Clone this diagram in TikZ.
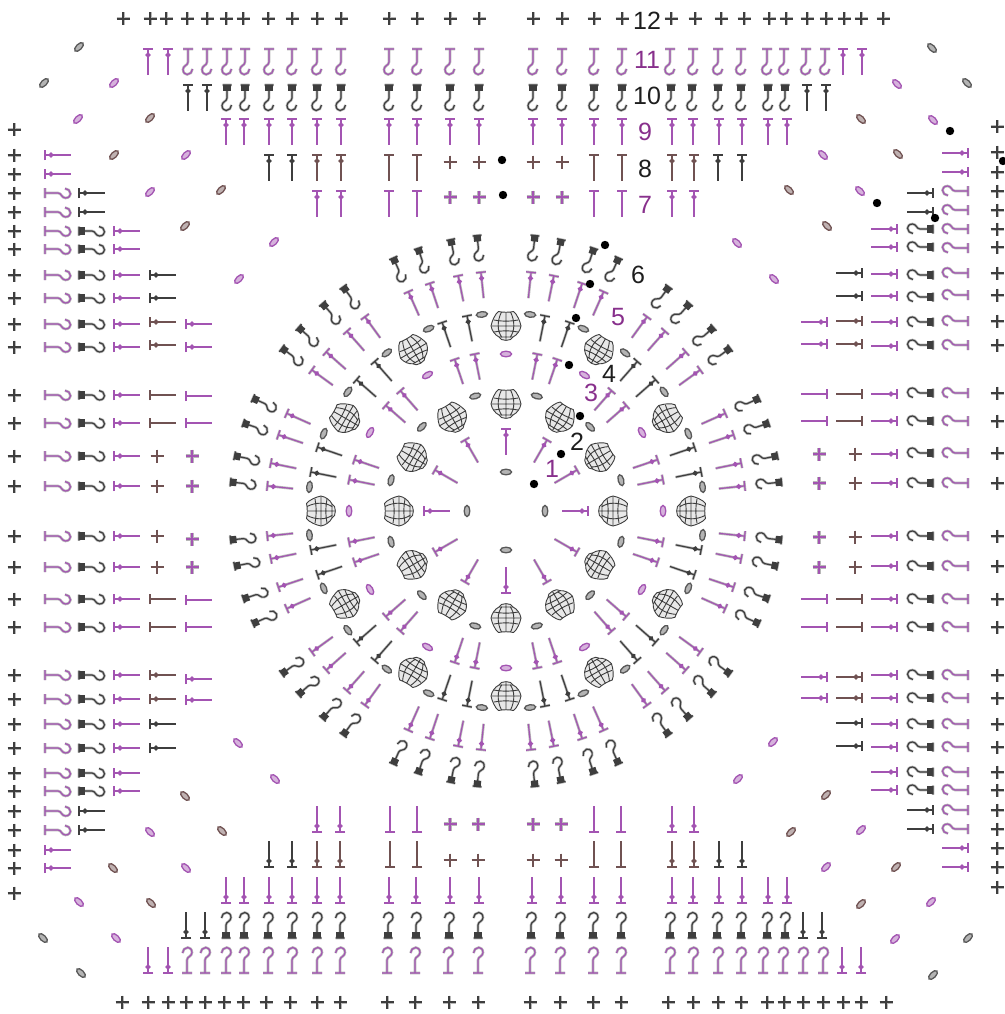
\documentclass[tikz,border=0pt]{standalone}
\usepackage{fontspec}
\setmainfont{Liberation Sans}
\definecolor{pk}{RGB}{163,84,178}
\definecolor{kk}{RGB}{62,62,62}
\definecolor{br}{RGB}{112,82,82}
\definecolor{gy}{RGB}{88,88,88}
\definecolor{lb}{RGB}{30,30,30}
\definecolor{lp}{RGB}{136,48,140}
\tikzset{
  thr/.style={line width=1.2pt,line cap=butt,preaction={draw,opacity=.28,line width=2.6pt}},
  pufl/.style={draw=kk,line width=0.9pt,line join=round},
  lab/.style={font=\fontsize{25}{25}\selectfont,inner sep=0pt,anchor=center},
  knot/.style={fill=black,draw=none}
}
% local frame: head at the origin, stitch runs towards +y (screen down) when the angle is 90
\newcommand\placed[4]{\begin{scope}[shift={({#1},{#2})},rotate={#3-90}]#4\end{scope}}
\newcommand\Tplain[4]{\placed{#1}{#2}{#3}{\draw[thr,#4] (-5,0)--(5,0) (0,0)--(0,26);}}
\newcommand\Tdot[4]{\placed{#1}{#2}{#3}{\draw[thr,#4] (-5,0)--(5,0) (0,0)--(0,26);\fill[#4] (-2.8,6)--(0,3)--(2.8,6)--(0,9)--cycle;}}
\newcommand\hookpath{(0,0)--(0,13) .. controls (0,16.5) and (-5,16.5) .. (-5,20.5) .. controls (-5,24) and (-2.5,25.5) .. (-0.8,25.5) .. controls (2,25.5) and (4.5,23) .. (4.5,20)}
\newcommand\Hthin[4]{\placed{#1}{#2}{#3}{\draw[thr,#4] (-5,0)--(5,0) \hookpath;}}
\newcommand\Hblock[4]{\placed{#1}{#2}{#3}{\draw[thr,#4] (-4.5,0)--(4.5,0) \hookpath;\fill[#4] (-3.6,0)--(3.6,0)--(3.6,6)--(-3.6,6)--cycle;}}
\newcommand\Cross[4]{\draw[#3,line width=#4,preaction={draw,opacity=.28,line width=#4+1.4pt}] ({#1-6.5},{#2})--({#1+6.5},{#2}) ({#1},{#2-6.5})--({#1},{#2+6.5});}
\newcommand\Oval[4]{\draw[#4,fill=#4!45,line width=1.3pt,rotate around={#3:({#1},{#2})}] ({#1},{#2}) ellipse [x radius=5.6,y radius=2.8];}
\newcommand\Puff[3]{\placed{#1}{#2}{#3}{\draw[pufl,fill=gray!18]
 (-7.5,-14.5) .. controls (-4,-13.5) and (4,-13.5) .. (7.5,-14.5) .. controls (11,-12) and (14,-5) .. (15,0) .. controls (14,5) and (11,9) .. (7,11) .. controls (6,15.5) and (-6,15.5) .. (-7,11) .. controls (-11,9) and (-14,5) .. (-15,0) .. controls (-14,-5) and (-11,-12) .. (-7.5,-14.5) -- cycle;
 \draw[pufl] (-4.5,-14) .. controls (-9,-5) and (-9,5) .. (-4,11.5) (4.5,-14) .. controls (9,-5) and (9,5) .. (4,11.5) (0,-14)--(0,14) (-15,0)--(15,0) (-12,-6) .. controls (-4,-4.5) and (4,-4.5) .. (12,-6) (-12,6) .. controls (-4,4.5) and (4,4.5) .. (12,6) (-7,11)--(7,11);}}
\newcommand\px[2]{506+#1*cos(#2)}
\newcommand\py[2]{511-#1*sin(#2)}
\begin{document}
\begin{tikzpicture}[x=1pt,y=-1pt]
\useasboundingbox (0,0) rectangle (1004,1014);
\fill[white] (0,0) rectangle (1004,1014);
% ---- crosses of the outer border
\foreach \x in {123,150,166,187,207,226,243,268,292,317,341,389,417,450,479,533,562,594,622,671,695,721,744,769,786,807,826,844,861,883} {\Cross{\x}{19}{kk}{1.6pt}}
\foreach \x in {122,148,168,186,205,224,243,266,290,317,340,387,415,449,478,530,560,593,621,668,693,718,741,767,784,803,823,843,861,886} {\Cross{\x}{1002}{kk}{1.6pt}}
\foreach \y in {130,155,174,193,212,231,249,275,298,324,347,395,423,456,486,536,567,599,627,675,699,724,748,773,791,811,830,850,868,893} {\Cross{14}{\y}{kk}{1.6pt}}
\foreach \y in {127,152,172,191,210,229,247,273,295,321,345,393,421,453,483,536,566,599,627,675,698,724,747,772,790,810,829,848,867,887} {\Cross{997}{\y}{kk}{1.6pt}}
% ---- top rows
\foreach \x in {148,168,843,862} {\Tdot{\x}{49}{90}{pk}}
\foreach \x in {188,207,227,245,269,292,317,341,389,417,450,479,533,562,594,622,670,693,718,741,767,784,806,825} {\Hthin{\x}{49}{90}{pk}}
\foreach \x in {188,207,807,826} {\Tdot{\x}{85}{90}{kk}}
\foreach \x in {227,245,269,292,317,341,389,417,450,479,533,562,594,622,671,692,718,741,768,785} {\Hblock{\x}{85}{90}{kk}}
\foreach \x in {226,244,269,292,317,341,389,417,450,479,533,562,594,622,672,693,719,742,768,787} {\Tdot{\x}{119}{90}{pk}}
\foreach \x in {269,292,718,742} {\Tdot{\x}{155}{90}{kk}}
\foreach \x in {317,341,672,694} {\Tdot{\x}{155}{90}{br}}
\foreach \x in {389,417,594,622} {\Tplain{\x}{155}{90}{br}}
\foreach \x in {450,479,533,562} {\Cross{\x}{162}{br}{1.3pt}}
\foreach \x in {317,341,672,694} {\Tdot{\x}{191}{90}{pk}}
\foreach \x in {389,417,594,622} {\Tplain{\x}{191}{90}{pk}}
\foreach \x in {450,479,533,562} {\Cross{\x}{197}{pk}{1.8pt}}
% ---- bottom rows
\foreach \x in {148,168,842,861} {\Tdot{\x}{973}{270}{pk}}
\foreach \x in {187,205,226,244,268,292,317,340,387,415,448,478,530,560,593,621,670,693,718,741,763,783,803,823} {\Hthin{\x}{973}{270}{pk}}
\foreach \x in {186,205,803,822} {\Tdot{\x}{938}{270}{kk}}
\foreach \x in {226,244,268,292,317,340,388,416,449,478,531,560,593,621,670,692,717,741,767,785} {\Hblock{\x}{938}{270}{kk}}
\foreach \x in {226,244,269,292,317,340,389,416,450,479,532,561,594,621,672,693,719,742,768,787} {\Tdot{\x}{903}{270}{pk}}
\foreach \x in {269,292,719,742} {\Tdot{\x}{867}{270}{kk}}
\foreach \x in {317,340,672,694} {\Tdot{\x}{867}{270}{br}}
\foreach \x in {390,417,594,621} {\Tplain{\x}{867}{270}{br}}
\foreach \x in {450,478,533,561} {\Cross{\x}{860}{br}{1.3pt}}
\foreach \x in {317,340,672,694} {\Tdot{\x}{832}{270}{pk}}
\foreach \x in {390,417,594,621} {\Tplain{\x}{832}{270}{pk}}
\foreach \x in {450,478,533,561} {\Cross{\x}{824}{pk}{1.8pt}}
% ---- left columns
\foreach \y in {155,174,850,868} {\Tdot{45}{\y}{180}{pk}}
\foreach \y in {193,212,231,249,275,298,324,347,395,423,456,486,536,567,599,627,675,699,724,748,773,791,811,830} {\Hthin{45}{\y}{180}{pk}}
\foreach \y in {193,212,811,830} {\Tdot{79}{\y}{180}{kk}}
\foreach \y in {231,249,275,298,324,347,395,423,456,486,536,567,599,627,675,699,724,748,773,791} {\Hblock{79}{\y}{180}{kk}}
\foreach \y in {231,249,275,298,324,347,395,423,456,486,536,567,599,627,675,699,724,748,773,791} {\Tdot{114}{\y}{180}{pk}}
\foreach \y in {275,298,724,748} {\Tdot{150}{\y}{180}{kk}}
\foreach \y in {322,345,675,699} {\Tdot{150}{\y}{180}{br}}
\foreach \y in {395,423,599,627} {\Tplain{150}{\y}{180}{br}}
\foreach \y in {456,486,536,567} {\Cross{157}{\y}{br}{1.3pt}}
\foreach \y in {324,347,679,700} {\Tdot{186}{\y}{180}{pk}}
\foreach \y in {396,423,600,627} {\Tplain{186}{\y}{180}{pk}}
\foreach \y in {456,486,539,567} {\Cross{192}{\y}{pk}{1.8pt}}
% ---- right columns
\foreach \y in {153,172,848,867} {\Tdot{968}{\y}{0}{pk}}
\foreach \y in {191,210,229,248,273,295,321,345,393,421,453,483,536,566,599,627,675,698,724,747,772,790,810,829} {\Hthin{968}{\y}{0}{pk}}
\foreach \y in {193,212,810,829} {\Tdot{933}{\y}{0}{kk}}
\foreach \y in {229,247,275,297,322,345,393,421,453,483,536,566,599,627,675,698,724,747,772,790} {\Hblock{933}{\y}{0}{kk}}
\foreach \y in {229,247,274,296,322,346,394,421,454,483,536,566,599,627,675,698,724,747,772,790} {\Tdot{897}{\y}{0}{pk}}
\foreach \y in {273,296,723,746} {\Tdot{862}{\y}{0}{kk}}
\foreach \y in {321,344,677,698} {\Tdot{862}{\y}{0}{br}}
\foreach \y in {394,421,599,627} {\Tplain{862}{\y}{0}{br}}
\foreach \y in {454,483,537,567} {\Cross{855}{\y}{br}{1.3pt}}
\foreach \y in {322,344,677,698} {\Tdot{827}{\y}{0}{pk}}
\foreach \y in {394,421,599,627} {\Tplain{827}{\y}{0}{pk}}
\foreach \y in {454,483,537,567} {\Cross{819}{\y}{pk}{1.8pt}}
% ---- corner chains
\foreach \x/\y in {79/47,44/83} {\Oval{\x}{\y}{45}{gy}}
\foreach \x/\y in {114/83,78/119,186/155,150/192,274/242,239/279} {\Oval{\x}{\y}{45}{pk}}
\foreach \x/\y in {150/118,114/155,221/190,185/226} {\Oval{\x}{\y}{45}{br}}
\foreach \x/\y in {932/48,967/83} {\Oval{\x}{\y}{-45}{gy}}
\foreach \x/\y in {897/84,933/120,823/155,860/191,737/243,774/279} {\Oval{\x}{\y}{-45}{pk}}
\foreach \x/\y in {861/119,898/154,789/190,827/226} {\Oval{\x}{\y}{-45}{br}}
\foreach \x/\y in {43/938,81/973} {\Oval{\x}{\y}{-45}{gy}}
\foreach \x/\y in {275/779,238/743,150/832,186/868,79/902,116/938} {\Oval{\x}{\y}{-45}{pk}}
\foreach \x/\y in {185/796,222/831,113/868,151/903} {\Oval{\x}{\y}{-45}{br}}
\foreach \x/\y in {968/938,933/975} {\Oval{\x}{\y}{45}{gy}}
\foreach \x/\y in {773/742,738/779,861/830,826/867,931/902,895/939} {\Oval{\x}{\y}{45}{pk}}
\foreach \x/\y in {826/795,791/832,896/867,861/904} {\Oval{\x}{\y}{45}{br}}
% ---- central rounds
\foreach \k in {0,...,3} {\pgfmathsetmacro\a{90*\k}\Oval{\px{39}{\a}}{\py{39}{\a}}{\a+90}{gy}}
\foreach \k in {0,...,11} {
  \pgfmathsetmacro\a{30*\k}
  \pgfmathsetmacro\m{30*\k+15}
  \Tdot{\px{82}{\a}}{\py{82}{\a}}{\a}{pk}
  \Puff{\px{107}{\a}}{\py{107}{\a}}{\a}
  \Puff{\px{185}{\a}}{\py{185}{\a}}{\a}
  \Oval{\px{157}{\a}}{\py{157}{\a}}{\a+90}{pk}
  \Oval{\px{119}{\m}}{\py{119}{\m}}{\m+90}{gy}
  \foreach \d in {-8,8} {\pgfmathsetmacro\b{\m+\d}\Oval{\px{198}{\b}}{\py{198}{\b}}{\b+90}{gy}}
  \foreach \d in {-3.7,3.7} {\pgfmathsetmacro\b{\m+\d}
     \Tdot{\px{160}{\b}}{\py{160}{\b}}{\b}{pk}
     \Tdot{\px{199}{\b}}{\py{199}{\b}}{\b}{kk}}
  \foreach \d in {-9,-3.5,3.5,9} {\pgfmathsetmacro\b{\m+\d}
     \Tdot{\px{240}{\b}}{\py{240}{\b}}{\b}{pk}
     \Hblock{\px{277}{\b}}{\py{277}{\b}}{\b}{kk}}
}
% ---- start markers
\foreach \x/\y in {502/160,503/195,950/131,1003/161,877/203,935/218,605/245,590/284,576/318,569/365,580/416,561/454,534/484} {\fill[knot] (\x,\y) circle [radius=4.2];}
% ---- round numbers
\node[lab,text=lb] (r12) at (647,21) {12};
\node[lab,text=lp] (r11) at (647,60) {11};
\node[lab,text=lb] (r10) at (647,96) {10};
\node[lab,text=lp] (r9) at (645,132) {9};
\node[lab,text=lb] (r8) at (645,169) {8};
\node[lab,text=lp] (r7) at (645,205) {7};
\node[lab,text=lb] (r6) at (638,275) {6};
\node[lab,text=lp] (r5) at (618,317) {5};
\node[lab,text=lb] (r4) at (609,374) {4};
\node[lab,text=lp] (r3) at (591,393) {3};
\node[lab,text=lb] (r2) at (577,442) {2};
\node[lab,text=lp] (r1) at (552,469) {1};
\end{tikzpicture}
\end{document}
